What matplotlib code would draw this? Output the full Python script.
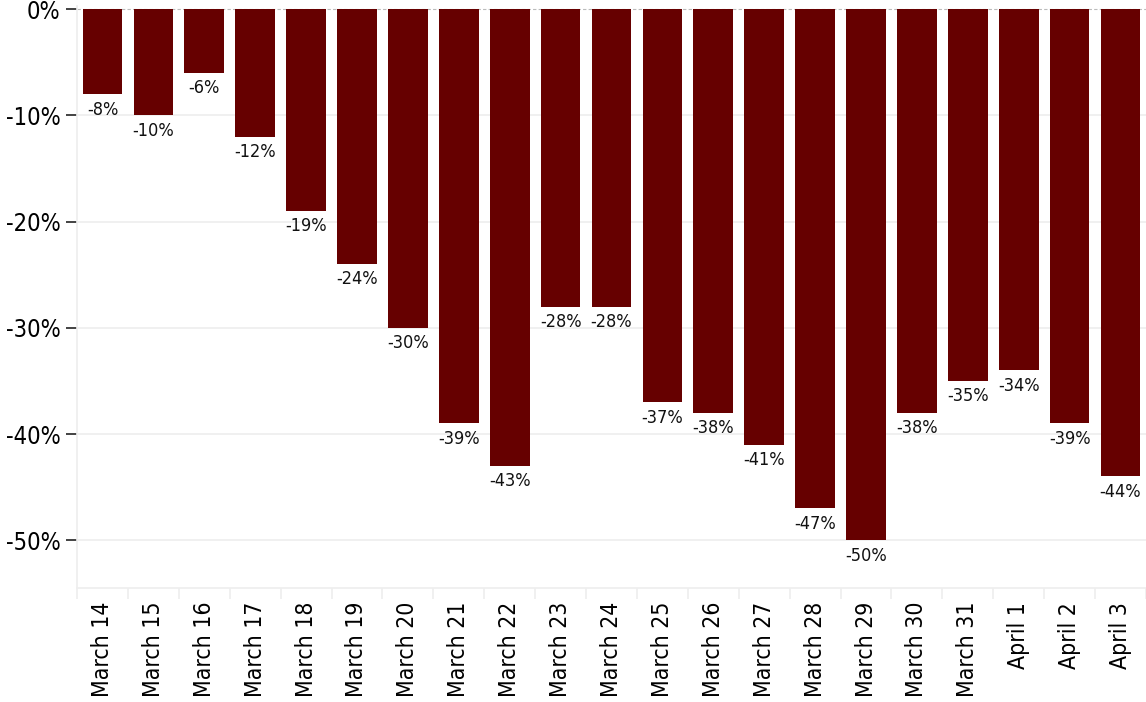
import matplotlib
matplotlib.use("Agg")
import matplotlib.pyplot as plt
import numpy as np

days = ["March 14", "March 15", "March 16", "March 17", "March 18", "March 19",
        "March 20", "March 21", "March 22", "March 23", "March 24", "March 25",
        "March 26", "March 27", "March 28", "March 29", "March 30", "March 31",
        "April 1", "April 2", "April 3"]
change = [-8, -10, -6, -12, -19, -24, -30, -39, -43, -28, -28, -37, -38, -41,
          -47, -50, -38, -35, -34, -39, -44]

plt.rcParams['font.family'] = ['DejaVu Sans']
plt.rcParams['font.stretch'] = 'condensed'

fig = plt.figure(figsize=(11.46, 7.02), dpi=100)
ax = fig.add_axes([77/1146, 1 - 588/702, 1 - 77/1146, (588 - 6)/702])

x = np.arange(len(days))
ax.bar(x, change, width=0.78, color="#660000", zorder=3)

for xi, v in zip(x, change):
    ax.text(xi, v - 0.6, f"-{abs(v)}%", ha="center", va="top", fontsize=13,
            color="#111111", fontstretch="condensed")

ax.set_xlim(-0.5, len(days) - 0.5)
ax.set_ylim(-54.5, 0.3)
yt = [0, -10, -20, -30, -40, -50]
ax.set_yticks(yt)
ax.set_yticklabels([f"{t}%" if t == 0 else f"-{abs(t)}%" for t in yt], fontsize=17,
                   fontstretch="condensed")
for t in yt:
    if t == 0:
        ax.axhline(t, color="#bbbbbb", lw=0.8, ls=(0, (3, 2)), zorder=1)
    else:
        ax.axhline(t, color="#eeeeee", lw=1.2, zorder=1)
ax.tick_params(axis="y", length=8, width=1.2, color="#222222", pad=4)

ax.set_xticks(x)
ax.set_xticklabels(days, rotation=90, fontsize=16.5, fontstretch="condensed")
ax.set_xticks(np.arange(-0.5, len(days)), minor=True)
ax.tick_params(axis="x", which="major", length=0, pad=10)
ax.tick_params(axis="x", which="minor", length=8, color="#eeeeee", width=1.2)

for s in ["top", "right"]:
    ax.spines[s].set_visible(False)
ax.spines["left"].set_color("#eeeeee")
ax.spines["bottom"].set_color("#eeeeee")
ax.spines["left"].set_linewidth(1.2)
ax.spines["bottom"].set_linewidth(1.2)

fig.savefig("out.png", dpi=100)
